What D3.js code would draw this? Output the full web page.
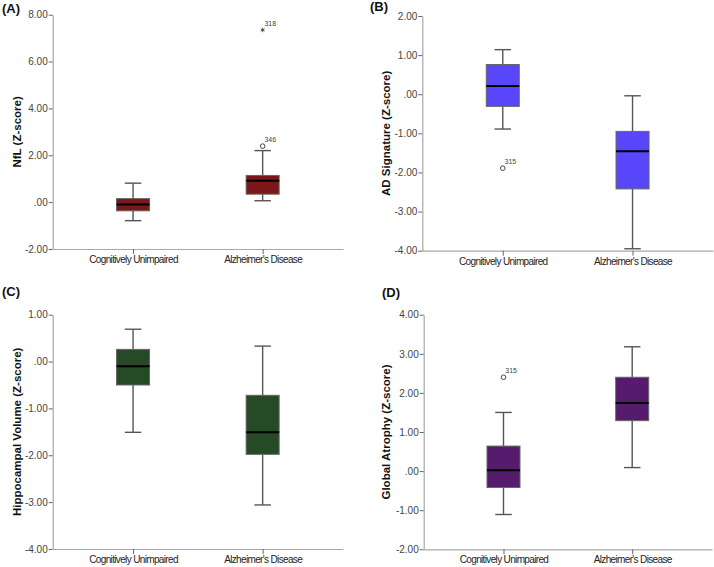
<!DOCTYPE html>
<html><head><meta charset="utf-8">
<script src="https://cdn.jsdelivr.net/npm/d3@7"></script>
<style>
body{margin:0;background:#fff;}
svg{display:block;font-family:Arial,"Liberation Sans",sans-serif;}
</style></head>
<body><svg id="chart" width="714" height="567"></svg>
<script>
// ---------- data ----------
const categories = ["Cognitively Unimpaired", "Alzheimer's Disease"];
// [lower whisker, Q1, median, Q3, upper whisker]
const nflStats = [[-0.79, -0.37, -0.10, 0.15, 0.81], [0.06, 0.34, 0.91, 1.14, 2.20]];
const adSigStats = [[-0.89, -0.31, 0.21, 0.76, 1.14], [-3.95, -2.42, -1.46, -0.95, -0.04]];
const hippoStats = [[-1.51, -0.50, -0.10, 0.26, 0.69], [-3.06, -1.98, -1.51, -0.72, 0.33]];
const atrophyStats = [[-1.11, -0.42, 0.02, 0.64, 1.50], [0.09, 1.29, 1.74, 2.40, 3.18]];
const nflOutliers = [{cat: 1, value: 2.39, id: "346", type: "circle"}, {cat: 1, value: 7.35, id: "318", type: "star"}];
const adSigOutliers = [{cat: 0, value: -1.89, id: "315", type: "circle"}];
const hippoOutliers = [];
const atrophyOutliers = [{cat: 0, value: 2.40, id: "315", type: "circle"}];
const nflTicks = [-2, 0, 2, 4, 6, 8];
const nflTickLabels = ["-2.00", ".00", "2.00", "4.00", "6.00", "8.00"];
const adSigTicks = [-4, -3, -2, -1, 0, 1, 2];
const adSigTickLabels = ["-4.00", "-3.00", "-2.00", "-1.00", ".00", "1.00", "2.00"];
const hippoTicks = [-4, -3, -2, -1, 0, 1];
const hippoTickLabels = ["-4.00", "-3.00", "-2.00", "-1.00", ".00", "1.00"];
const atrophyTicks = [-2, -1, 0, 1, 2, 3, 4];
const atrophyTickLabels = ["-2.00", "-1.00", ".00", "1.00", "2.00", "3.00", "4.00"];
const panelLetters = ["(A)", "(B)", "(C)", "(D)"];
const yTitles = ["NfL (Z-score)", "AD Signature (Z-score)", "Hippocampal Volume (Z-score)", "Global Atrophy (Z-score)"];

// ---------- layout / style ----------
const panels = [
  {stats: nflStats, outliers: nflOutliers, ticks: nflTicks, tickLabels: nflTickLabels, title: yTitles[0], letter: panelLetters[0],
   color: "#7a1718", x0: 52.7, x1: 343, y0: 14.7, y1: 249, titleX: 17, lx: 2, ly: 13},
  {stats: adSigStats, outliers: adSigOutliers, ticks: adSigTicks, tickLabels: adSigTickLabels, title: yTitles[1], letter: panelLetters[1],
   color: "#5846fb", x0: 422.3, x1: 713, y0: 16, y1: 250.7, titleX: 386, lx: 370, ly: 11},
  {stats: hippoStats, outliers: hippoOutliers, ticks: hippoTicks, tickLabels: hippoTickLabels, title: yTitles[2], letter: panelLetters[2],
   color: "#254a25", x0: 52.7, x1: 343, y0: 314.7, y1: 549, titleX: 17, lx: 2, ly: 296},
  {stats: atrophyStats, outliers: atrophyOutliers, ticks: atrophyTicks, tickLabels: atrophyTickLabels, title: yTitles[3], letter: panelLetters[3],
   color: "#561b6c", x0: 423.7, x1: 712, y0: 314.7, y1: 549.3, titleX: 386, lx: 382, ly: 297}
];

const svg = d3.select("#chart");
const axisColor = "#a8a8a8";
const boxW = 33;

panels.forEach(p => {
  const g = svg.append("g");
  const y = d3.scaleLinear().domain(d3.extent(p.ticks)).range([p.y1, p.y0]);
  const x = d3.scalePoint().domain(categories).range([p.x0, p.x1]).padding(0.62);

  // y axis
  const yAx = g.append("g").attr("transform", `translate(${p.x0},0)`)
    .call(d3.axisLeft(y).tickValues(p.ticks).tickFormat((d, i) => p.tickLabels[i]).tickSize(4).tickSizeOuter(0).tickPadding(1));
  yAx.select(".domain").attr("stroke", axisColor).attr("stroke-width", 1.2);
  yAx.selectAll(".tick line").attr("stroke", "#666");
  yAx.selectAll(".tick text").attr("fill", "#444").style("font-size", "10px").style("font-family", "Arial, 'Liberation Sans', sans-serif");

  // x axis
  const xAx = g.append("g").attr("transform", `translate(0,${p.y1})`)
    .call(d3.axisBottom(x).tickSize(5).tickSizeOuter(0).tickPadding(2));
  xAx.select(".domain").attr("stroke", axisColor).attr("stroke-width", 1.2);
  xAx.selectAll(".tick line").attr("stroke", "#666");
  xAx.selectAll(".tick text").attr("fill", "#222").style("font-size", "10px")
    .style("font-family", "Arial, 'Liberation Sans', sans-serif").style("letter-spacing", "-0.65px");

  // y title
  g.append("text")
    .attr("transform", `translate(${p.titleX},${(p.y0 + p.y1) / 2}) rotate(-90)`)
    .attr("text-anchor", "middle").attr("dy", "0.35em")
    .style("font-size", "11.5px").style("font-weight", "bold").attr("fill", "#111")
    .text(p.title);

  // panel letter
  g.append("text").attr("x", p.lx).attr("y", p.ly)
    .style("font-size", "13px").style("font-weight", "bold").attr("fill", "#111")
    .text(p.letter);

  // boxes
  p.stats.forEach((s, i) => {
    const cx = x(categories[i]);
    const [lo, q1, med, q3, hi] = s;
    const bg = g.append("g");
    // whiskers
    bg.append("line").attr("x1", cx).attr("x2", cx).attr("y1", y(hi)).attr("y2", y(q3)).attr("stroke", "#555").attr("stroke-width", 1.4);
    bg.append("line").attr("x1", cx).attr("x2", cx).attr("y1", y(q1)).attr("y2", y(lo)).attr("stroke", "#555").attr("stroke-width", 1.4);
    bg.append("line").attr("x1", cx - boxW / 4).attr("x2", cx + boxW / 4).attr("y1", y(hi)).attr("y2", y(hi)).attr("stroke", "#555").attr("stroke-width", 1.4);
    bg.append("line").attr("x1", cx - boxW / 4).attr("x2", cx + boxW / 4).attr("y1", y(lo)).attr("y2", y(lo)).attr("stroke", "#555").attr("stroke-width", 1.4);
    // box
    bg.append("rect").attr("x", cx - boxW / 2).attr("y", y(q3)).attr("width", boxW).attr("height", y(q1) - y(q3))
      .attr("fill", p.color).attr("stroke", "#666").attr("stroke-width", 1);
    // median
    bg.append("line").attr("x1", cx - boxW / 2).attr("x2", cx + boxW / 2).attr("y1", y(med)).attr("y2", y(med))
      .attr("stroke", "#000").attr("stroke-width", 2);
  });

  // outliers
  p.outliers.forEach(o => {
    const cx = x(categories[o.cat]);
    const cy = y(o.value);
    if (o.type === "circle") {
      g.append("circle").attr("cx", cx).attr("cy", cy).attr("r", 2.3).attr("fill", "none").attr("stroke", "#444").attr("stroke-width", 1);
    } else {
      g.append("path").attr("d", d3.symbol(d3.symbolAsterisk, 14)()).attr("transform", `translate(${cx},${cy})`)
        .attr("stroke", "#444").attr("stroke-width", 0.9).attr("fill", "none");
    }
    g.append("text").attr("x", cx + 1.8).attr("y", cy - 4.2)
      .style("font-size", "7px").attr("fill", "#444").text(o.id);
  });
});
</script></body></html>
